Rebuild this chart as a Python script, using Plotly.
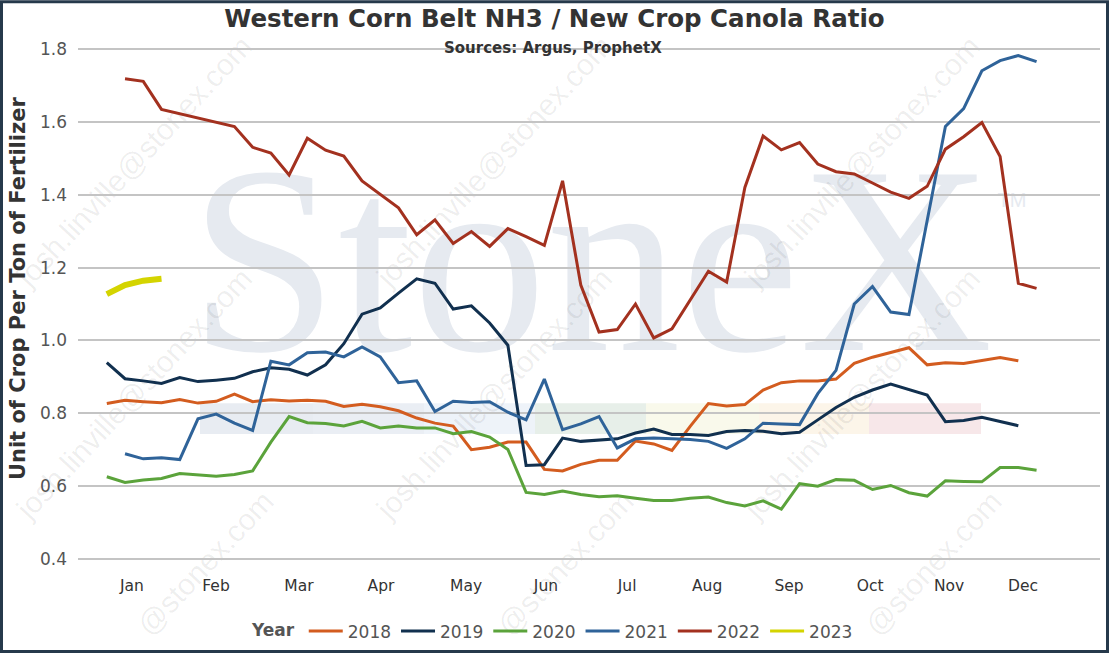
import plotly.graph_objects as go

# week number within the year (week 1 = first week of Jan)
weeks_2018 = list(range(1, 52))
weeks_2019 = list(range(1, 52))
weeks_2020 = list(range(1, 53))
weeks_2021 = list(range(2, 53))
weeks_2022 = list(range(2, 53))
weeks_2023 = [1, 2, 3, 4]

ratio_2018 = [0.827, 0.836, 0.832, 0.829, 0.838, 0.828, 0.833, 0.853, 0.832, 0.837,
              0.834, 0.836, 0.833, 0.819, 0.825, 0.818, 0.807, 0.787, 0.773, 0.765,
              0.700, 0.707, 0.721, 0.721, 0.646, 0.642, 0.660, 0.671, 0.671, 0.724,
              0.716, 0.698, 0.764, 0.827, 0.820, 0.824, 0.864, 0.884, 0.889, 0.889,
              0.894, 0.937, 0.954, 0.966, 0.980, 0.933, 0.939, 0.937, 0.945, 0.953,
              0.944]
ratio_2019 = [0.939, 0.895, 0.889, 0.882, 0.898, 0.887, 0.891, 0.896, 0.914, 0.925,
              0.921, 0.905, 0.933, 0.991, 1.072, 1.089, 1.130, 1.169, 1.157, 1.086,
              1.095, 1.048, 0.987, 0.657, 0.659, 0.732, 0.723, 0.727, 0.730, 0.746,
              0.757, 0.742, 0.742, 0.739, 0.750, 0.753, 0.751, 0.744, 0.748, 0.782,
              0.816, 0.844, 0.864, 0.880, 0.864, 0.850, 0.777, 0.780, 0.789, 0.777,
              0.766]
ratio_2020 = [0.626, 0.610, 0.617, 0.621, 0.635, 0.630, 0.627, 0.632, 0.642, 0.721,
              0.791, 0.774, 0.772, 0.765, 0.778, 0.760, 0.765, 0.760, 0.760, 0.744,
              0.750, 0.735, 0.701, 0.583, 0.577, 0.587, 0.577, 0.571, 0.574, 0.567,
              0.561, 0.561, 0.567, 0.570, 0.555, 0.546, 0.560, 0.537, 0.607, 0.600,
              0.618, 0.616, 0.591, 0.602, 0.582, 0.573, 0.615, 0.613, 0.612, 0.651,
              0.651, 0.644]
ratio_2021 = [0.689, 0.675, 0.678, 0.673, 0.785, 0.798, 0.773, 0.753, 0.943, 0.933,
              0.966, 0.968, 0.955, 0.982, 0.955, 0.884, 0.889, 0.805, 0.833, 0.830,
              0.832, 0.803, 0.782, 0.894, 0.755, 0.771, 0.791, 0.705, 0.730, 0.732,
              0.730, 0.728, 0.723, 0.704, 0.730, 0.773, 0.771, 0.769, 0.854, 0.918,
              1.100, 1.148, 1.078, 1.071, 1.329, 1.587, 1.636, 1.740, 1.768, 1.782,
              1.765]
ratio_2022 = [1.718, 1.711, 1.634, 1.622, 1.611, 1.599, 1.587, 1.530, 1.514, 1.454,
              1.555, 1.522, 1.506, 1.438, 1.402, 1.364, 1.290, 1.331, 1.266, 1.299,
              1.258, 1.307, 1.285, 1.261, 1.438, 1.152, 1.023, 1.030, 1.100, 1.007,
              1.032, 1.111, 1.190, 1.160, 1.420, 1.561, 1.523, 1.543, 1.484, 1.463,
              1.457, 1.432, 1.407, 1.390, 1.423, 1.525, 1.559, 1.598, 1.505, 1.157,
              1.143]
ratio_2023 = [1.127, 1.152, 1.164, 1.169]

month_labels = ["Jan", "Feb", "Mar", "Apr", "May", "Jun", "Jul", "Aug", "Sep", "Oct", "Nov", "Dec"]
month_pos = [2.38, 6.99, 11.54, 16.04, 20.71, 25.09, 29.54, 33.93, 38.42, 42.87, 47.2, 51.26]

series = [
    ("2018", weeks_2018, ratio_2018, "#d35c1f", 3),
    ("2019", weeks_2019, ratio_2019, "#11304f", 3),
    ("2020", weeks_2020, ratio_2020, "#5ba33b", 3),
    ("2021", weeks_2021, ratio_2021, "#2f6399", 3),
    ("2022", weeks_2022, ratio_2022, "#a3311f", 3),
    ("2023", weeks_2023, ratio_2023, "#d4d400", 6),
]

W, H = 1109, 658
L, R, T, B = 78, 9, 38, 84


def px_x(x):
    return (x - L) / (W - L - R)


def px_y(y):
    return (H - B - y) / (H - B - T)


fig = go.Figure()
for name, x, y, color, width in series:
    fig.add_trace(go.Scatter(x=x, y=y, mode="lines", name=name, showlegend=(name != "2023"),
                             line=dict(color=color, width=width)))
# legend entry for 2023 with a normal line weight
fig.add_trace(go.Scatter(x=[None], y=[None], mode="lines", name="2023",
                         line=dict(color="#d4d400", width=3)))

shapes = []
# watermark colour bars
bars = [(200, 313, "#e8ecf2"), (313, 424, "#eaeef4"), (424, 535, "#eef3f9"),
        (535, 646, "#e7efe9"), (646, 759, "#f9f9eb"), (759, 869, "#fcf5e9"), (869, 981, "#f7e7e9")]
for x0, x1, c in bars:
    shapes.append(dict(type="rect", xref="paper", yref="paper", layer="below",
                       x0=px_x(x0), x1=px_x(x1), y0=px_y(437), y1=px_y(406),
                       fillcolor=c, line=dict(width=0)))


def label_box(cx, cy, text, size, color, family, angle=0):
    return dict(type="rect", xref="paper", yref="paper", layer="below",
                x0=px_x(cx - 1), x1=px_x(cx + 1), y0=px_y(cy + 1), y1=px_y(cy - 1),
                line=dict(width=0), fillcolor="rgba(0,0,0,0)",
                label=dict(text=text, textangle=angle, textposition="middle center",
                           font=dict(size=size, color=color, family=family)))


shapes.append(label_box(591, 232, "StoneX", 268, "#e6eaf0", "Liberation Serif"))
shapes.append(label_box(1012, 199, "TM", 20, "#e6eaf0", "Liberation Sans"))
wm = "rgba(0,0,0,0.07)"
for cx in (132, 492, 860):
    for cy in (160, 394):
        shapes.append(label_box(cx, cy, "josh.linville@stonex.com", 30, wm, "Liberation Sans", -47))
    shapes.append(label_box(cx + 71, 565, "@stonex.com", 30, wm, "Liberation Sans", -47))

# outer frame
shapes.append(dict(type="rect", xref="paper", yref="paper", layer="above",
                   x0=px_x(1.5), x1=px_x(W - 1.5), y0=px_y(H - 2), y1=px_y(1.5),
                   line=dict(color="#26394b", width=3), fillcolor="rgba(0,0,0,0)"))

fig.update_layout(
    width=W, height=H,
    margin=dict(l=L, r=R, t=T, b=B),
    paper_bgcolor="white", plot_bgcolor="white",
    font=dict(family="DejaVu Sans", color="#555555"),
    title=dict(text="<b>Western Corn Belt NH3 / New Crop Canola Ratio</b>",
               x=0.5, xanchor="center", y=1 - 18 / H, yanchor="middle",
               font=dict(size=24.5, color="#333333")),
    shapes=shapes,
    annotations=[
        dict(text="<b>Sources: Argus, ProphetX</b>", xref="paper", yref="paper",
             x=px_x(553), y=px_y(48), xanchor="center", yanchor="middle",
             showarrow=False, font=dict(size=15, color="#333333")),
        dict(text="<b>Unit of Crop Per Ton of Fertilizer</b>", xref="paper", yref="paper",
             x=px_x(18), y=px_y(290), xanchor="center", yanchor="middle", textangle=-90,
             showarrow=False, font=dict(size=21, color="#333333")),
    ],
    showlegend=True,
    legend=dict(orientation="h", x=px_x(250), xanchor="left", y=px_y(636), yanchor="middle",
                itemwidth=34,
                title=dict(text="<b>Year</b>", font=dict(size=17, color="#555555")),
                font=dict(size=17, color="#555555"), bgcolor="rgba(0,0,0,0)"),
)

fig.update_xaxes(range=[-0.58, 55.48], tickvals=month_pos, ticktext=month_labels,
                 showgrid=False, zeroline=False, showline=False, ticks="",
                 tickfont=dict(size=15.5, color="#333333", family="DejaVu Sans"),
                 ticklabelstandoff=4)
fig.update_xaxes(tickprefix="<b>", ticksuffix="</b>")
fig.update_yaxes(range=[0.37, 1.83], tickvals=[0.4, 0.6, 0.8, 1.0, 1.2, 1.4, 1.6, 1.8],
                 tickformat=".1f", showgrid=True, gridcolor="#c4c4c4", gridwidth=1.5,
                 zeroline=False, showline=False, ticks="",
                 tickfont=dict(size=17, color="#555555"), ticklabelstandoff=10)

page_fix = ("document.body.style.margin='0px';"
            "document.body.style.lineHeight='0';"
            "document.body.style.height='658px';"
            "document.body.style.overflow='hidden';"
            "document.documentElement.style.overflow='hidden';")
fig.write_html("out.html", config={"displayModeBar": False}, post_script=page_fix)
